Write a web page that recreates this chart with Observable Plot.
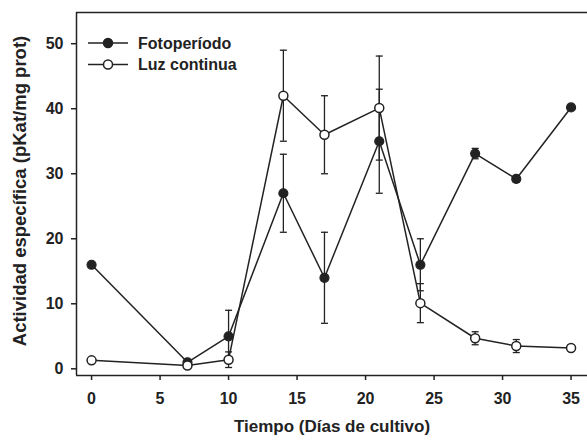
<!DOCTYPE html>
<html>
<head>
<meta charset="utf-8">
<script src="https://cdn.jsdelivr.net/npm/d3@7"></script>
<script src="https://cdn.jsdelivr.net/npm/@observablehq/plot@0.6"></script>
<style>
  html, body { margin: 0; padding: 0; background: #fff; }
  #wrap { position: relative; width: 587px; height: 442px; }
  #legend { position: absolute; left: 0; top: 0; pointer-events: none; }
  #legend text { font-family: "Liberation Sans", Arial, sans-serif; font-weight: bold; font-size: 16px; fill: #222; }
</style>
</head>
<body>
<div id="wrap"></div>
<script>
// ---- data ----
const days = [0, 7, 10, 14, 17, 21, 24, 28, 31, 35];
const fotoperiodo = [16, 1, 5, 27, 14, 35, 16, 33.1, 29.2, 40.2];
const fotoperiodoErr = [0, 0, 4, 6, 7, 8, 4, 0.8, 0.5, 0];
const luzContinua = [1.3, 0.5, 1.4, 42, 36, 40.1, 10.1, 4.7, 3.5, 3.2];
const luzContinuaErr = [0, 0, 1.2, 7, 6, 8, 3, 1, 1, 0];
const seriesNames = ["Fotoperíodo", "Luz continua"];
const xTicks = [0, 5, 10, 15, 20, 25, 30, 35];
const yTicks = [0, 10, 20, 30, 40, 50];
const xTitle = "Tiempo (Días de cultivo)";
const yTitle = "Actividad específica (pKat/mg prot)";
const xDomain = [-1.1, 36.2];
const yDomain = [-1.03, 54.8];

const rows = [];
days.forEach((d, i) => {
  rows.push({day: d, value: fotoperiodo[i], err: fotoperiodoErr[i], series: seriesNames[0]});
  rows.push({day: d, value: luzContinua[i], err: luzContinuaErr[i], series: seriesNames[1]});
});
const foto = rows.filter(r => r.series === seriesNames[0]);
const luz = rows.filter(r => r.series === seriesNames[1]);
const errRows = rows.filter(r => r.err > 0);

const ink = "#222";
const cap = {
  draw(ctx, size) {
    const w = Math.sqrt(size / Math.PI);
    ctx.moveTo(-w, 0);
    ctx.lineTo(w, 0);
  }
};

const chart = Plot.plot({
  width: 587,
  height: 442,
  marginLeft: 76,
  marginRight: 0,
  marginTop: 12,
  marginBottom: 67,
  x: {domain: xDomain},
  y: {domain: yDomain},
  style: {fontFamily: "Liberation Sans, Arial, sans-serif", fontSize: "16px", fontWeight: "bold", color: ink, background: "#fff"},
  marks: [
    Plot.ruleY([yDomain[1]], {stroke: ink, strokeWidth: 1.5}),
    Plot.ruleY([yDomain[0]], {stroke: ink, strokeWidth: 1.5}),
    Plot.ruleX([xDomain[0]], {stroke: ink, strokeWidth: 1.5}),
    Plot.axisX({ticks: xTicks, tickSize: 5, tickPadding: 12, label: null, stroke: ink, strokeWidth: 1.5}),
    Plot.axisY({ticks: yTicks, tickSize: 5, tickPadding: 8, label: null, stroke: ink, strokeWidth: 1.5}),
    Plot.text([xTitle], {frameAnchor: "bottom", textAnchor: "middle", dy: 56, fontSize: 17, fontWeight: "bold", fill: ink}),
    Plot.text([yTitle], {frameAnchor: "left", textAnchor: "middle", dx: -56, dy: -3, rotate: -90, fontSize: 18.5, fontWeight: "bold", fill: ink}),
    Plot.line(foto, {x: "day", y: "value", stroke: ink, strokeWidth: 1.5}),
    Plot.line(luz, {x: "day", y: "value", stroke: ink, strokeWidth: 1.5}),
    Plot.ruleX(errRows, {x: "day", y1: d => d.value - d.err, y2: d => d.value + d.err, stroke: ink, strokeWidth: 1.3}),
    Plot.dot(errRows, {x: "day", y: d => d.value + d.err, symbol: cap, r: 3.5, stroke: ink, strokeWidth: 1.3}),
    Plot.dot(errRows, {x: "day", y: d => d.value - d.err, symbol: cap, r: 3.5, stroke: ink, strokeWidth: 1.3}),
    Plot.dot(foto, {x: "day", y: "value", r: 4.5, fill: ink, stroke: ink, strokeWidth: 1.2}),
    Plot.dot(luz, {x: "day", y: "value", r: 4.5, fill: "#fff", stroke: ink, strokeWidth: 1.5})
  ]
});

const wrap = document.getElementById("wrap");
wrap.appendChild(chart);

// legend overlay
const ns = "http://www.w3.org/2000/svg";
const leg = document.createElementNS(ns, "svg");
leg.setAttribute("id", "legend");
leg.setAttribute("width", 260);
leg.setAttribute("height", 80);
const legendItems = [
  {name: seriesNames[0], fill: ink, y: 43},
  {name: seriesNames[1], fill: "#fff", y: 64.5}
];
legendItems.forEach(it => {
  const l = document.createElementNS(ns, "line");
  l.setAttribute("x1", 88); l.setAttribute("x2", 128);
  l.setAttribute("y1", it.y); l.setAttribute("y2", it.y);
  l.setAttribute("stroke", ink); l.setAttribute("stroke-width", 1.5);
  leg.appendChild(l);
  const c = document.createElementNS(ns, "circle");
  c.setAttribute("cx", 108); c.setAttribute("cy", it.y); c.setAttribute("r", 4.5);
  c.setAttribute("fill", it.fill); c.setAttribute("stroke", ink); c.setAttribute("stroke-width", 1.5);
  leg.appendChild(c);
  const t = document.createElementNS(ns, "text");
  t.setAttribute("x", 138); t.setAttribute("y", it.y);
  t.setAttribute("dy", "0.35em");
  t.textContent = it.name;
  leg.appendChild(t);
});
wrap.appendChild(leg);
</script>
</body>
</html>
